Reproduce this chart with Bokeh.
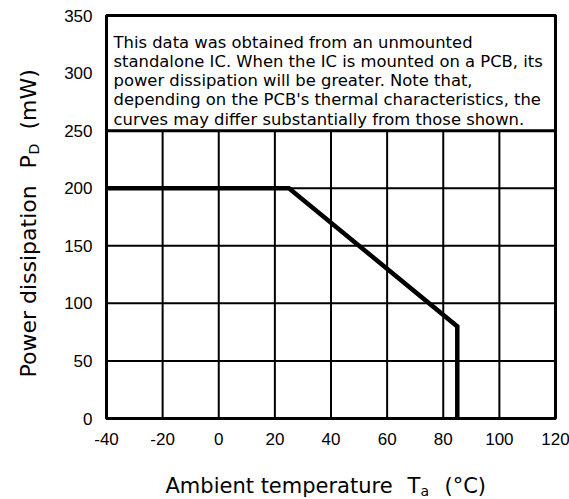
import math
from bokeh.plotting import figure
from bokeh.models import Label, Range1d
from bokeh.core.properties import value
from bokeh.embed import file_html
from bokeh.resources import INLINE

# ---- data ----
temperature = [-40, 25, 85, 85]
power = [200, 200, 80, 0]
x_ticks = [-40, -20, 0, 20, 40, 60, 80, 100, 120]
y_ticks = [0, 50, 100, 150, 200, 250, 300, 350]
note_lines = [
    "This data was obtained from an unmounted",
    "standalone IC. When the IC is mounted on a PCB, its",
    "power dissipation will be greater. Note that,",
    "depending on the PCB's thermal characteristics, the",
    "curves may differ substantially from those shown.",
]
note_box_x = [-40, 120]
note_box_y = [250, 350]

# ---- geometry (canvas pixels) ----
X0, X1 = -40, 120
Y0, Y1 = 0, 350
W, H = 569, 499
PX_L, PX_R, PY_T, PY_B = 106, 555, 15, 418
SX = (X1 - X0) / (PX_R - PX_L)
SY = (Y1 - Y0) / (PY_B - PY_T)

def dx(px):
    return X0 + (px - PX_L) * SX

def dy(py):
    return Y0 + (PY_B - py) * SY

p = figure(width=W, height=H,
           x_range=Range1d(dx(0), dx(W)), y_range=Range1d(dy(H), dy(0)),
           x_axis_location=None, y_axis_location=None,
           output_backend="svg", toolbar_location=None, min_border=0)
p.background_fill_color = "white"
p.border_fill_color = "white"
p.outline_line_color = None
p.xgrid.visible = False
p.ygrid.visible = False

# grid
nx, ny = len(x_ticks), len(y_ticks)
p.segment(x0=x_ticks, y0=[Y0] * nx, x1=x_ticks, y1=[Y1] * nx, line_color="black", line_width=2)
p.segment(x0=[X0] * ny, y0=y_ticks, x1=[X1] * ny, y1=y_ticks, line_color="black", line_width=2)

# note box (covers upper grid)
p.quad(left=[note_box_x[0]], right=[note_box_x[1]], bottom=[note_box_y[0]], top=[note_box_y[1]],
       fill_color="white", line_color="black", line_width=3)

# plot-area outline
p.quad(left=[X0], right=[X1], bottom=[Y0], top=[Y1], fill_color=None, line_color="black", line_width=3)

# curve
p.line(temperature, power, line_color="black", line_width=4.5, line_join="miter")

# tick labels
TICKF = value("Liberation Sans")
p.text(x=x_ticks, y=[dy(438.5)] * nx, text=[str(t) for t in x_ticks],
       text_font=TICKF, text_font_size="17px", text_color="black",
       text_align="center", text_baseline="middle")
p.text(x=[dx(92)] * ny, y=y_ticks, text=[str(t) for t in y_ticks],
       text_font=TICKF, text_font_size="17px", text_color="black",
       text_align="right", text_baseline="middle")

TF = "DejaVu Sans"
# note text, one label per line
for i, line in enumerate(note_lines):
    p.add_layout(Label(x=dx(113), y=dy(41.5 + i * 19.3), text=line,
                       text_font=TF, text_font_size="16.4px", text_color="black",
                       text_align="left", text_baseline="alphabetic"))

# x title
for txt, px, size, base in [("Ambient temperature", 165, "21px", 485),
                            ("T", 407, "21px", 485),
                            ("a", 420, "14px", 490),
                            ("(°C)", 444, "21px", 485)]:
    p.add_layout(Label(x=dx(px), y=dy(base), text=txt, text_font=TF, text_font_size=size,
                       text_color="black", text_align="left", text_baseline="alphabetic"))

# y title (rotated)
for txt, py, size, basex in [("Power dissipation", 377, "22px", 28),
                             ("P", 168, "22px", 28),
                             ("D", 154, "14px", 33),
                             ("(mW)", 129, "22px", 28)]:
    p.add_layout(Label(x=dx(basex), y=dy(py), text=txt, text_font=TF, text_font_size=size,
                       text_color="black", text_align="left", text_baseline="alphabetic",
                       angle=math.pi / 2))

open("out.html", "w").write(file_html(p, INLINE))
